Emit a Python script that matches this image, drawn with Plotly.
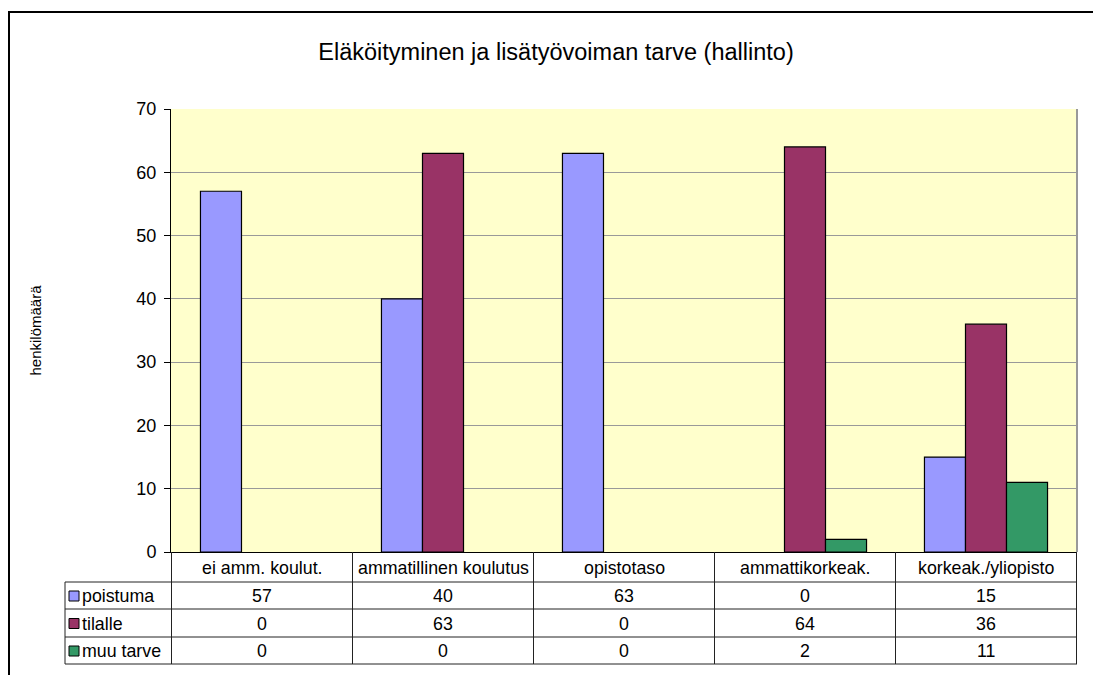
import plotly.graph_objects as go

categories = ["ei amm. koulut.", "ammatillinen koulutus", "opistotaso",
              "ammattikorkeak.", "korkeak./yliopisto"]
series_names = ["poistuma", "tilalle", "muu tarve"]
poistuma = [57, 40, 63, 0, 15]
tilalle = [0, 63, 0, 64, 36]
muu_tarve = [0, 0, 0, 2, 11]
colors = ["#9999FF", "#993366", "#339966"]
y_ticks = [0, 10, 20, 30, 40, 50, 60, 70]

series = [poistuma, tilalle, muu_tarve]

W, H = 1093, 675
# plot area in pixels
PL, PR, PT, PB = 171, 1077, 109, 552
FONT = "Liberation Sans, Arial, sans-serif"


def px(x):
    return (x - PL) / (PR - PL)


def py(y):
    return (PB - y) / (PB - PT)


fig = go.Figure()
for name, vals, col in zip(series_names, series, colors):
    # no outline on empty bars, Excel draws nothing there
    fig.add_trace(go.Bar(
        x=categories, y=vals, name=name,
        marker=dict(color=col, line=dict(color="black",
                                         width=[1.2 if v else 0 for v in vals])),
        showlegend=False,
    ))

shapes = []
annotations = []

# outer chart border (runs off the right and bottom of the picture)
shapes.append(dict(type="rect", xref="paper", yref="paper",
                   x0=px(9), x1=px(1110), y0=py(700), y1=py(12),
                   line=dict(color="black", width=2)))
# grey right edge of plot area
shapes.append(dict(type="line", xref="paper", yref="paper",
                   x0=1, x1=1, y0=0, y1=1, line=dict(color="#999999", width=2)))

# data table
row_lines = [582, 609, 637, 664]
row_mid = [596, 623.5, 651]
line_style = dict(color="#222222", width=1)
for yl in row_lines:
    shapes.append(dict(type="line", xref="paper", yref="paper",
                       x0=px(65), x1=1, y0=py(yl), y1=py(yl), line=line_style))
shapes.append(dict(type="line", xref="paper", yref="paper",
                   x0=px(65), x1=px(65), y0=py(582), y1=py(664), line=line_style))
for i in range(len(categories) + 1):
    shapes.append(dict(type="line", xref="x", yref="paper",
                       x0=i - 0.5, x1=i - 0.5, y0=py(552), y1=py(664),
                       line=line_style))

cell_font = dict(size=17.8)
for i, cat in enumerate(categories):
    annotations.append(dict(x=i, y=py(568), xref="x", yref="paper", text=cat,
                            xanchor="center", yanchor="middle",
                            showarrow=False, font=cell_font))
    for r, vals in enumerate(series):
        annotations.append(dict(x=i, y=py(row_mid[r]), xref="x", yref="paper",
                                text=str(vals[i]), xanchor="center",
                                yanchor="middle", showarrow=False,
                                font=cell_font))

for r, (name, col) in enumerate(zip(series_names, colors)):
    shapes.append(dict(type="rect", xref="paper", yref="paper",
                       x0=px(69), x1=px(79),
                       y0=py(row_mid[r] + 5), y1=py(row_mid[r] - 5),
                       fillcolor=col, line=dict(color="black", width=1)))
    annotations.append(dict(x=px(80), y=py(row_mid[r]), xref="paper", yref="paper",
                            text=name, xanchor="left", yanchor="middle",
                            showarrow=False, font=cell_font))

# y axis title
annotations.append(dict(x=px(35), y=0.5, xref="paper", yref="paper",
                        text="henkilömäärä", textangle=-90, showarrow=False,
                        xanchor="center", yanchor="middle",
                        font=dict(size=15)))

fig.update_layout(
    width=W, height=H,
    margin=dict(l=PL, r=W - PR, t=PT, b=H - PB),
    paper_bgcolor="white",
    plot_bgcolor="#FFFFCC",
    font=dict(family=FONT, color="black"),
    title=dict(text="Eläköityminen ja lisätyövoiman tarve (hallinto)",
               x=556 / W, xanchor="center", y=1 - 52 / H, yanchor="middle",
               xref="container", yref="container",
               font=dict(size=23.5, family=FONT, color="black")),
    barmode="group", bargap=0.32, bargroupgap=0,
    xaxis=dict(showticklabels=False, ticks="", showline=True,
               linecolor="black", linewidth=1, showgrid=False),
    yaxis=dict(range=[0, 70], tickvals=y_ticks, showgrid=True,
               gridcolor="#999999", gridwidth=1, zeroline=False,
               showline=True, linecolor="black", linewidth=1,
               ticks="outside", ticklen=6, tickcolor="black",
               tickfont=dict(size=18), ticklabelstandoff=4),
    shapes=shapes,
    annotations=annotations,
)

# drop the page's default body margin so the figure sits at the window origin
fig.write_html("out.html", config={"displayModeBar": False},
               post_script="document.body.style.margin='0';")
